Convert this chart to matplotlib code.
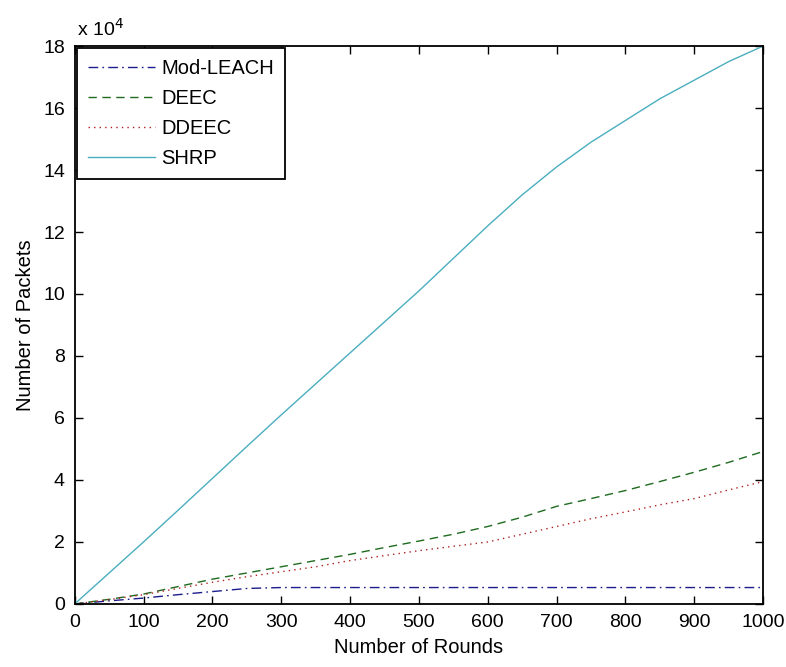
import matplotlib
matplotlib.use("Agg")
import matplotlib.pyplot as plt
from matplotlib.ticker import FuncFormatter, MultipleLocator

plt.rcParams['font.family'] = ['Liberation Sans', 'DejaVu Sans']

rounds = [0, 50, 100, 150, 200, 250, 300, 350, 400, 450, 500, 550, 600, 650, 700, 750, 800, 850, 900, 950, 1000]

mod_leach = [0, 1000, 1900, 3000, 4000, 5000, 5300, 5300, 5300, 5300, 5300, 5300, 5300, 5300, 5300, 5300, 5300, 5300, 5300, 5300, 5300]
deec = [0, 1500, 3200, 5600, 8000, 10000, 12000, 14000, 16000, 18200, 20300, 22500, 25000, 28000, 31500, 34000, 36600, 39500, 42500, 45700, 49200]
ddeec = [0, 1400, 3000, 5000, 7000, 8800, 10400, 12000, 14000, 15600, 17200, 18600, 20000, 22500, 25000, 27500, 29700, 32000, 34000, 36800, 39500]
shrp = [0, 10000, 20000, 30200, 40500, 50800, 61000, 71000, 81000, 91000, 101000, 111500, 122000, 132000, 141000, 149000, 156000, 163000, 169000, 175000, 180000]

labels = ['Mod-LEACH', 'DEEC', 'DDEEC', 'SHRP']
x_ticks = [0, 100, 200, 300, 400, 500, 600, 700, 800, 900, 1000]

fig = plt.figure(figsize=(7.86, 6.67), dpi=100)
ax = fig.add_axes([0.0950, 0.0945, 0.8760, 0.8365])

ax.plot(rounds, mod_leach, color='#1c1c8c', lw=1.0, linestyle=(0, (7, 3, 1.2, 3)), label=labels[0])
ax.plot(rounds, deec, color='#1e6a1e', lw=1.0, linestyle=(0, (6, 4)), label=labels[1])
ax.plot(rounds, ddeec, color='#b02020', lw=1.0, linestyle=(0, (1, 3)), label=labels[2])
ax.plot(rounds, shrp, color='#4aaebf', lw=1.0, linestyle='-', label=labels[3])

ax.set_xlim(0, 1000)
ax.set_ylim(0, 180000)
ax.set_xticks(x_ticks)
ax.yaxis.set_major_locator(MultipleLocator(20000))
ax.yaxis.set_major_formatter(FuncFormatter(lambda v, p: f"{v/1e4:g}"))

ax.tick_params(direction='in', length=6, width=1.0, top=True, right=True, labelsize=14, pad=7)
for s in ax.spines.values():
    s.set_linewidth(1.3)

ax.set_xlabel('Number of Rounds', fontsize=14.5, labelpad=5)
ax.set_ylabel('Number of Packets', fontsize=14.5, labelpad=6)

ax.text(0.003, 1.012, r'x 10$^{4}$', transform=ax.transAxes, fontsize=14, ha='left', va='bottom')

leg = ax.legend(loc='upper left', fontsize=14.5, borderaxespad=0.1, handlelength=3.35,
                handletextpad=0.3, labelspacing=0.55, fancybox=False, framealpha=1,
                edgecolor='black', borderpad=0.55)
leg.get_frame().set_linewidth(1.3)

fig.savefig('out.png', dpi=100, facecolor='white')
